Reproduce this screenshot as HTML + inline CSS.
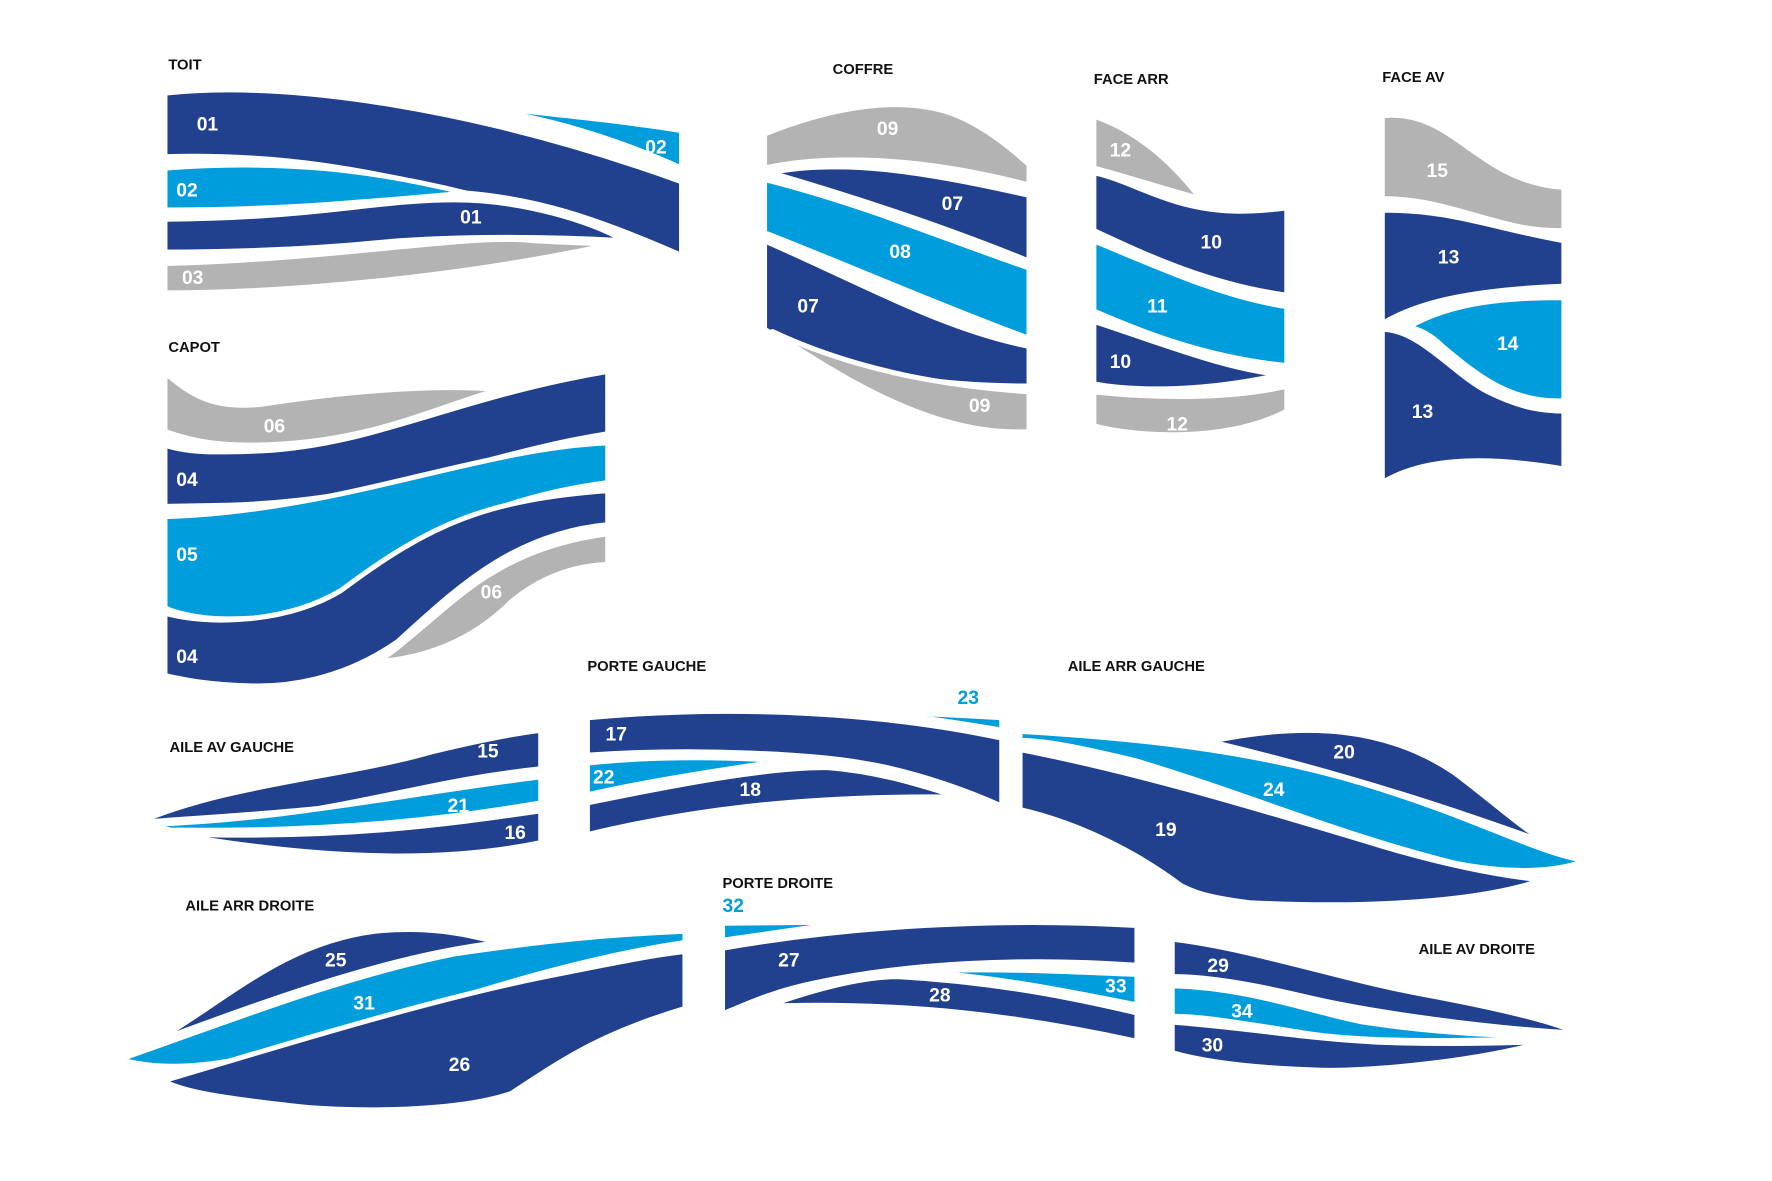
<!DOCTYPE html>
<html><head><meta charset="utf-8"><style>
html,body{margin:0;padding:0;background:#fff;}
svg{display:block;}
.d{fill:#21418f}.l{fill:#009ddd}.g{fill:#b3b3b3}
path{stroke:#fff;stroke-width:4.5;stroke-linejoin:round}
text.n{fill:#fff;font-family:"Liberation Sans",sans-serif;font-weight:bold;font-size:17px}
text.t{fill:#111;font-family:"Liberation Sans",sans-serif;font-weight:bold;font-size:13px}
</style></head><body>
<svg width="1772" height="1181" viewBox="0 0 1560 1040" xmlns="http://www.w3.org/2000/svg">
<!-- TOIT -->
<text class="t" x="148" y="61">TOIT</text>
<path class="d" d="M145,82 C250,70 420,95 600,160 L600,225 C520,190 470,175 410,170 C320,150 250,135 145,138Z"/>
<path class="l" d="M380,89 C450,97 540,105 600,115 L600,148 C520,112 450,97 380,89Z"/>
<path class="l" d="M145,148 C250,140 330,150 410,170 C320,178 250,185 145,185Z"/>
<path class="d" d="M145,193 C280,192 330,176 400,176 C460,176 520,195 550,212 C480,208 400,208 340,213 C270,220 200,222 145,222Z"/>
<path class="g" d="M145,232 C300,228 420,205 470,212 C510,214 540,215 540,215 C400,245 250,258 145,258Z"/>
<text class="n" x="173" y="115">01</text><text class="n" x="568" y="135">02</text>
<text class="n" x="155" y="173">02</text><text class="n" x="405" y="197">01</text>
<text class="n" x="160" y="250">03</text>
<!-- CAPOT -->
<text class="t" x="148" y="310">CAPOT</text>
<path class="g" d="M145,328 C170,350 190,360 230,356 C300,345 380,338 440,343 C380,360 320,392 220,392 C180,392 160,385 145,380Z"/>
<path class="d" d="M145,392 C170,400 200,398 230,397 C330,392 400,350 535,327 L535,382 C420,400 350,440 200,445 L145,446Z"/>
<path class="l" d="M145,455 C300,450 420,395 535,390 L535,425 C420,440 370,480 320,515 C280,540 240,545 200,545 C170,545 150,538 145,535Z"/>
<path class="d" d="M145,540 C180,550 250,550 300,520 C380,460 430,440 535,432 L535,462 C450,470 400,520 350,565 C300,600 250,605 220,604 C180,603 160,598 145,595Z"/>
<path class="g" d="M535,470 C460,480 420,510 380,545 C350,570 340,580 328,583 C380,580 420,560 450,530 C480,505 510,498 535,497Z"/>
<text class="n" x="232" y="381">06</text><text class="n" x="155" y="428">04</text>
<text class="n" x="155" y="494">05</text><text class="n" x="155" y="584">04</text>
<text class="n" x="423" y="527">06</text>
<!-- COFFRE -->
<text class="t" x="733" y="65">COFFRE</text>
<path class="g" d="M673,118 C730,95 800,80 850,105 C880,120 900,140 906,145 L906,163 C800,135 720,138 673,148Z"/>
<path class="d" d="M678,152 C740,140 810,150 906,172 L906,230 C820,195 740,170 678,152Z"/>
<path class="l" d="M673,158 C760,180 830,210 906,236 L906,298 C830,270 750,235 673,205Z"/>
<path class="d" d="M673,212 C760,250 830,290 906,305 L906,340 C800,340 720,320 673,290Z"/>
<path class="g" d="M680,292 C750,325 830,340 906,345 L906,380 C830,385 750,340 680,292Z"/>
<text class="n" x="772" y="119">09</text><text class="n" x="829" y="185">07</text>
<text class="n" x="783" y="227">08</text><text class="n" x="702" y="275">07</text>
<text class="n" x="853" y="363">09</text>
<!-- FACE ARR -->
<text class="t" x="963" y="74">FACE ARR</text>
<path class="g" d="M963,102 C1000,115 1030,140 1057,175 C1020,165 990,155 963,148Z"/>
<path class="d" d="M963,152 C1000,160 1030,185 1090,186 C1110,186 1125,184 1133,183 L1133,260 C1060,250 1000,220 963,203Z"/>
<path class="l" d="M963,212 C1030,240 1080,262 1133,270 L1133,322 C1060,315 1000,290 963,274Z"/>
<path class="d" d="M963,283 C1030,305 1080,325 1128,330 C1060,345 1000,345 963,338Z"/>
<path class="g" d="M963,345 C1030,352 1090,350 1133,340 L1133,362 C1080,390 1000,385 963,375Z"/>
<text class="n" x="977" y="138">12</text><text class="n" x="1057" y="219">10</text>
<text class="n" x="1010" y="275">11</text><text class="n" x="977" y="324">10</text>
<text class="n" x="1027" y="379">12</text>
<!-- FACE AV -->
<text class="t" x="1217" y="72">FACE AV</text>
<path class="g" d="M1217,102 C1280,95 1300,160 1377,165 L1377,203 C1320,205 1280,175 1217,175Z"/>
<path class="d" d="M1217,185 C1280,185 1310,200 1377,212 L1377,252 C1300,255 1250,265 1217,285Z"/>
<path class="l" d="M1240,288 C1280,265 1330,262 1377,262 L1377,353 C1330,355 1300,330 1270,305 C1260,295 1250,290 1240,288Z"/>
<path class="d" d="M1217,290 C1250,290 1280,330 1310,345 C1340,360 1360,362 1377,362 L1377,413 C1300,400 1250,405 1217,425Z"/>
<text class="n" x="1256" y="156">15</text><text class="n" x="1266" y="232">13</text>
<text class="n" x="1318" y="308">14</text><text class="n" x="1243" y="368">13</text>
<!-- AILE AV GAUCHE -->
<text class="t" x="149" y="662">AILE AV GAUCHE</text>
<path class="d" d="M120,725 C200,690 300,685 380,662 C430,650 460,645 476,643 L476,677 C400,685 350,700 280,712 C200,720 140,722 120,725Z"/>
<path class="l" d="M130,726 C250,722 350,700 476,684 L476,707 C400,720 300,733 150,731Z"/>
<path class="d" d="M148,734 C300,740 400,725 476,714 L476,742 C400,758 300,760 148,734Z"/>
<text class="n" x="420" y="667">15</text><text class="n" x="394" y="715">21</text>
<text class="n" x="444" y="739">16</text>
<!-- PORTE GAUCHE -->
<text class="t" x="517" y="591">PORTE GAUCHE</text>
<path class="d" d="M517,632 C650,620 780,628 882,650 L882,710 C860,700 810,680 760,672 C720,665 620,658 517,665Z"/>
<path class="l" d="M770,627 C810,628 850,630 882,632 L882,643 C840,636 800,630 770,627Z"/>
<path class="l" d="M517,672 C580,665 650,667 690,670 C620,680 560,690 517,700Z"/>
<path class="d" d="M517,707 C600,690 680,675 730,676 C780,680 820,695 845,702 C700,700 600,715 517,735Z"/>
<text class="n" x="533" y="652">17</text><text class="n" x="843" y="620" style="fill:#009ddd">23</text>
<text class="n" x="522" y="690">22</text><text class="n" x="651" y="701">18</text>
<!-- AILE ARR GAUCHE -->
<text class="t" x="940" y="591">AILE ARR GAUCHE</text>
<path class="d" d="M1065,653 C1150,635 1220,640 1280,680 C1320,710 1340,730 1366,744 C1300,720 1200,685 1065,653Z"/>
<path class="l" d="M898,644 C1000,650 1100,660 1200,690 C1300,720 1350,750 1396,758 C1370,768 1330,770 1280,760 C1180,735 1100,700 1000,670 C950,658 920,652 898,652Z"/>
<path class="d" d="M898,660 C1000,680 1100,710 1200,740 C1280,765 1330,772 1358,775 C1300,795 1200,800 1100,795 C1060,790 1050,785 1040,780 C1000,750 950,725 898,713Z"/>
<text class="n" x="1174" y="668">20</text><text class="n" x="1112" y="701">24</text>
<text class="n" x="1017" y="736">19</text>
<!-- AILE ARR DROITE -->
<text class="t" x="163" y="802">AILE ARR DROITE</text>
<path class="d" d="M135,918 C200,880 250,830 330,820 C380,815 410,823 440,830 C350,840 250,875 135,918Z"/>
<path class="l" d="M105,933 C200,900 300,860 400,840 C500,825 560,822 603,820 L603,830 C500,845 400,880 300,910 C200,940 150,945 105,933Z"/>
<path class="d" d="M143,952 C250,920 380,880 480,860 C540,848 580,840 603,838 L603,888 C530,910 500,930 450,963 C400,980 300,980 250,973 C180,965 160,960 143,952Z"/>
<text class="n" x="286" y="851">25</text><text class="n" x="311" y="889">31</text>
<text class="n" x="395" y="943">26</text>
<!-- PORTE DROITE -->
<text class="t" x="636" y="782">PORTE DROITE</text>
<text class="n" x="636" y="803" style="fill:#009ddd">32</text>
<path class="l" d="M636,813 L748,812 L636,828Z"/>
<path class="d" d="M636,835 C750,815 880,808 1001,815 L1001,850 C900,843 800,848 720,865 C680,873 655,885 636,893Z"/>
<path class="l" d="M800,855 C900,852 960,857 1001,858 L1001,885 C950,875 880,860 800,855Z"/>
<path class="d" d="M675,886 C720,870 760,860 790,860 C880,865 950,880 1001,892 L1001,917 C900,895 800,882 675,886Z"/>
<text class="n" x="685" y="851">27</text><text class="n" x="973" y="874">33</text>
<text class="n" x="818" y="882">28</text>
<!-- AILE AV DROITE -->
<text class="t" x="1249" y="840">AILE AV DROITE</text>
<path class="d" d="M1032,827 C1100,835 1180,862 1250,875 C1320,888 1370,900 1389,910 C1300,905 1200,890 1150,878 C1100,866 1060,860 1032,860Z"/>
<path class="l" d="M1032,868 C1100,870 1150,890 1200,900 C1280,912 1340,912 1380,913 C1300,918 1200,918 1150,910 C1100,902 1060,895 1032,895Z"/>
<path class="d" d="M1032,900 C1100,905 1150,915 1220,918 C1290,920 1340,918 1362,917 C1300,935 1200,945 1150,942 C1100,940 1060,935 1032,927Z"/>
<text class="n" x="1063" y="856">29</text><text class="n" x="1084" y="896">34</text>
<text class="n" x="1058" y="926">30</text>
</svg>
</body></html>
